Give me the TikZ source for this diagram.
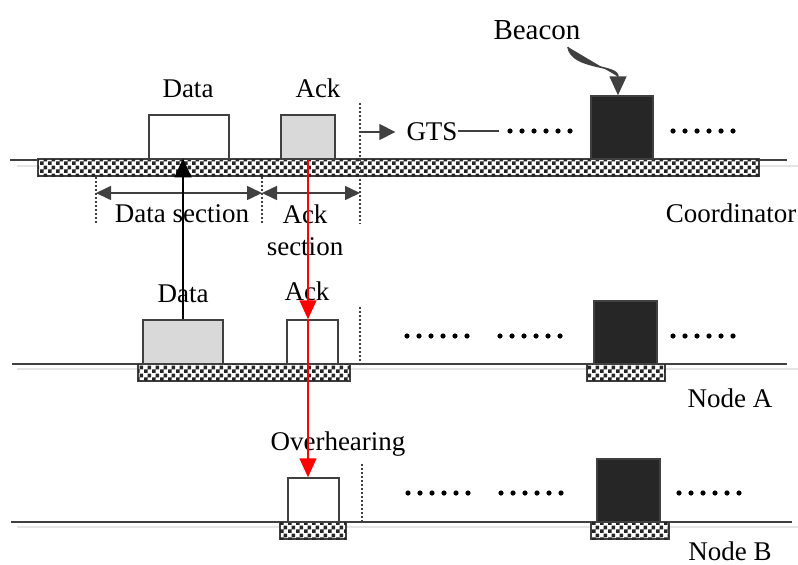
\documentclass[tikz,border=0pt]{standalone}
\usepackage{fontspec}
\setmainfont{Liberation Serif}
\usetikzlibrary{arrows.meta,patterns}

\definecolor{bordo}{HTML}{404040}
\definecolor{grigio}{HTML}{D9D9D9}
\definecolor{scuro}{HTML}{262626}

% scacchiera con quadretti da 4pt
\pgfdeclarepatternformonly{scacchi}{\pgfpointorigin}{\pgfqpoint{8pt}{8pt}}{\pgfqpoint{8pt}{8pt}}{%
  \pgfpathrectangle{\pgfpointorigin}{\pgfqpoint{4pt}{4pt}}%
  \pgfpathrectangle{\pgfqpoint{4pt}{4pt}}{\pgfqpoint{4pt}{4pt}}%
  \pgfusepath{fill}}

\tikzset{
  pacchetto/.style={draw=bordo, line width=1.5pt, inner sep=0pt, minimum height=44pt},
  beacon/.style={pacchetto, fill=scuro, minimum width=63pt, minimum height=63pt},
  barra/.style={draw=bordo, line width=1.2pt, inner sep=0pt, minimum height=17pt, fill=white,
    postaction={pattern=scacchi, pattern color=black!85}},
  testo/.style={inner sep=0pt, anchor=base, font=\fontsize{27}{32}\selectfont},
  linea/.style={draw=bordo, line width=1.6pt},
  ombra/.style={draw=black!10, line width=1.6pt},
  tratteggio/.style={draw=bordo, line width=1.2pt, dash pattern=on 2pt off 2pt},
  freccia/.style={line width=1.6pt, -{Triangle[length=19pt,width=17pt]}},
  quota/.style={draw=bordo, line width=1.6pt, {Triangle[length=15pt,width=14pt]}-{Triangle[length=15pt,width=14pt]}}
}

\begin{document}
\begin{tikzpicture}[x=1pt, y=-1pt]
\useasboundingbox (0,0) rectangle (798,565);

% linee del tempo
\draw[ombra] (17,166) -- (798,166);
\draw[linea] (10,160) -- (787,160); % Coordinator
\draw[ombra] (17,369) -- (798,369);
\draw[linea] (12,364) -- (787,364); % Node A
\draw[ombra] (17,527) -- (798,527);
\draw[linea] (11,522) -- (792,522); % Node B

% Coordinator
\node[barra, minimum width=721pt] (barC) at (398.5,167.5) {};
\node[pacchetto, fill=white, minimum width=80pt] (datiC) at (189,137) {};
\node[pacchetto, fill=grigio, minimum width=54pt] (ackC) at (308,137) {};
\node[beacon, minimum width=62pt] (beaconC) at (622,127.5) {};

\node[testo] (lblDatiC) at (188,97) {Data};
\node[testo] (lblAckC) at (318,97) {Ack};
\node[testo, font=\fontsize{29}{32}\selectfont] (lblBeacon) at (537,39) {Beacon};
\node[testo] (gts) at (432,140) {GTS};
\node[testo] (lblSezDati) at (182,222) {Data section};
\node[testo, anchor=center, align=center] (lblSezAck) at (305,230) {Ack\\section};
\node[testo] (lblCoord) at (731,222) {Coordinator};

% linee tratteggiate verticali
\coordinate (t1) at (96,177);  \coordinate (b1) at (96,224);
\coordinate (t2) at (262,177); \coordinate (b2) at (262,224);
\coordinate (t3) at (360,103); \coordinate (b3) at (360,224);
\draw[tratteggio] (t1) -- (b1);
\draw[tratteggio] (t2) -- (b2);
\draw[tratteggio] (t3) -- (b3);

% quote delle sezioni
\coordinate (q1) at (96,193);
\coordinate (q2) at (262,193);
\coordinate (q3) at (360,193);
\draw[quota] (q1) -- (q2);
\draw[quota] (q2) -- (q3);

% GTS
\coordinate (gtsInizio) at (360,132);
\coordinate (gtsFine) at (499,131);
\draw[freccia, draw=bordo, fill=bordo, -{Triangle[length=16pt,width=16pt]}] (gtsInizio) -- ([xshift=-11pt,yshift=8pt]gts.base west);
\draw[linea, line width=1.2pt] ([yshift=9pt]gts.base east) -- (gtsFine);

% freccia curva del beacon
\coordinate (curvaInizio) at (568,47);
\draw[freccia, draw=bordo, fill=bordo] (curvaInizio) .. controls (572,70) and (618,64) .. ([xshift=-4pt]beaconC.north);

% Node A
\node[barra, minimum width=212pt] (barA1) at (244,372.5) {};
\node[barra, minimum width=78pt] (barA2) at (626,372.5) {};
\node[pacchetto, fill=grigio, minimum width=80pt] (datiA) at (183,342) {};
\node[pacchetto, fill=white, minimum width=51pt] (ackA) at (312.5,342) {};
\node[beacon] (beaconA) at (625.5,332.5) {};
\node[testo] (lblDatiA) at (183,302) {Data};
\node[testo] (lblAckA) at (307,300) {Ack};
\node[testo] (lblNodoA) at (730,407) {Node A};
\coordinate (tA) at (360,307); \coordinate (bA) at (360,364);
\draw[tratteggio] (tA) -- (bA);

% Node B
\node[barra, minimum width=66pt] (barB1) at (313,530.5) {};
\node[barra, minimum width=78pt] (barB2) at (630,530.5) {};
\node[pacchetto, fill=white, minimum width=51pt] (ackB) at (313.5,500) {};
\node[beacon] (beaconB) at (628.5,490.5) {};
\node[testo] (lblOver) at (338,450) {Overhearing};
\node[testo] (lblNodoB) at (730,560) {Node B};
\coordinate (tB) at (362,464); \coordinate (bB) at (362,522);
\draw[tratteggio] (tB) -- (bB);

% puntini
\foreach \xa/\ya in {510/131, 673/131, 407/336, 500/336, 673/336, 408/493, 501/493, 679/493}
  \foreach \i in {0,...,5}
    \fill (\xa+12*\i,\ya) circle (2.6pt);

% trasmissione dati e ack
\draw[freccia] (datiA.north) -- (datiA.north |- barC.north);
\draw[freccia, red] (ackC.south) -- (ackC.south |- ackA.north);
\draw[freccia, red] (ackC.south |- ackA.north) -- (ackC.south |- ackB.north);

\end{tikzpicture}
\end{document}
